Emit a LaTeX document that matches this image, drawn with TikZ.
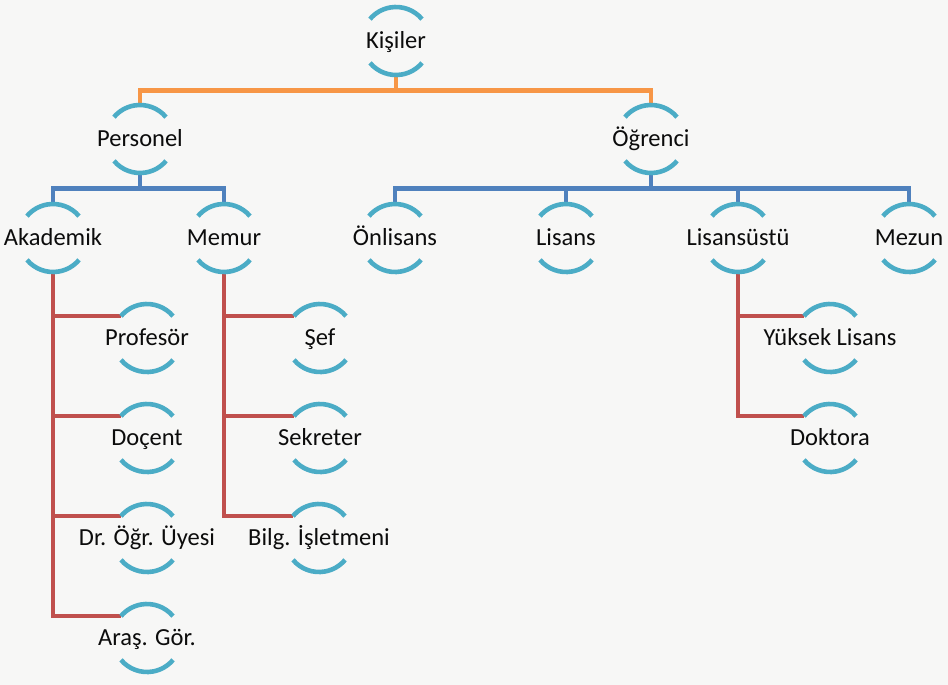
\documentclass[tikz,border=0pt]{standalone}
\usepackage{fontspec}
\setmainfont{Carlito}
\usetikzlibrary{calc}
\definecolor{bg}{RGB}{247,247,246}
\definecolor{ringc}{RGB}{75,172,198}
\definecolor{topc}{RGB}{247,150,70}
\definecolor{midc}{RGB}{79,129,189}
\definecolor{lowc}{RGB}{192,80,77}
\definecolor{txt}{RGB}{12,12,12}
% one unit of the chart: an empty circle carrying its name as a centred label
\newcommand\orgunit[3]{\node[ring, label={[lbl]center:#3}] (#1) at (#2) {};}
\begin{document}
\begin{tikzpicture}[x=1pt,y=-1pt,
  ring/.style={circle, minimum size=68pt, inner sep=0pt, outer sep=0pt},
  lbl/.style={font=\fontsize{24.5}{29}\selectfont, text=txt, inner sep=0pt,
              text height=15.6pt, text depth=0pt},
  arcline/.style={draw=ringc, line width=4.6pt},
  link/.style={line width=4.6pt, line join=miter},
  toplink/.style={link, draw=topc},
  midlink/.style={link, draw=midc},
  lowlink/.style={link, draw=lowc}]

\fill[bg] (0,0) rectangle (948,685);

% units
\orgunit{kisiler}{396,41}{Kişiler}
\orgunit{personel}{140,139}{Personel}
\orgunit{ogrenci}{651,139}{Öğrenci}
\orgunit{akademik}{53,238}{Akademik}
\orgunit{memur}{224,238}{Memur}
\orgunit{onlisans}{395,238}{Önlisans}
\orgunit{lisans}{566,238}{Lisans}
\orgunit{lisansustu}{738,238}{Lisansüstü}
\orgunit{mezun}{909,238}{Mezun}
\orgunit{profesor}{147,338}{Profesör}
\orgunit{docent}{147,438}{Doçent}
\orgunit{drogr}{147,538}{Dr. Öğr. Üyesi}
\orgunit{arasgor}{147,638}{Araş. Gör.}
\orgunit{sef}{320,338}{Şef}
\orgunit{sekreter}{320,438}{Sekreter}
\orgunit{bilgisl}{319,538}{Bilg. İşletmeni}
\orgunit{yuksek}{830,338}{Yüksek Lisans}
\orgunit{doktora}{830,438}{Doktora}

% bus points between levels
\coordinate (b0) at (396,90.5);
\coordinate (b1) at (140,188.5);
\coordinate (b2) at (651,188.5);

% first level
\draw[toplink] (personel.north) |- (b0) -| (ogrenci.north);
\draw[toplink] (kisiler.south) -- (b0);

% second level
\draw[midlink] (akademik.north) |- (b1) -| (memur.north);
\draw[midlink] (personel.south) -- (b1);
\draw[midlink] (onlisans.north) |- (b2) -| (mezun.north);
\draw[midlink] (lisans.north) -- (lisans.north |- b2);
\draw[midlink] (lisansustu.north) -- (lisansustu.north |- b2);
\draw[midlink] (ogrenci.south) -- (b2);

% third level
\foreach \n in {arasgor, drogr, docent, profesor}
  \draw[lowlink] (akademik.south) |- (\n.140);
\foreach \n in {bilgisl, sekreter, sef}
  \draw[lowlink] (memur.south) |- (\n.140);
\foreach \n in {doktora, yuksek}
  \draw[lowlink] (lisansustu.south) |- (\n.140);

% the two arcs of every unit
\foreach \n in {kisiler, personel, ogrenci, akademik, memur, onlisans, lisans,
                lisansustu, mezun, profesor, docent, drogr, arasgor, sef,
                sekreter, bilgisl, yuksek, doktora}
  \draw[arcline] (\n.40) arc[start angle=40, end angle=140, radius=34pt]
                 (\n.220) arc[start angle=220, end angle=320, radius=34pt];
\end{tikzpicture}
\end{document}
